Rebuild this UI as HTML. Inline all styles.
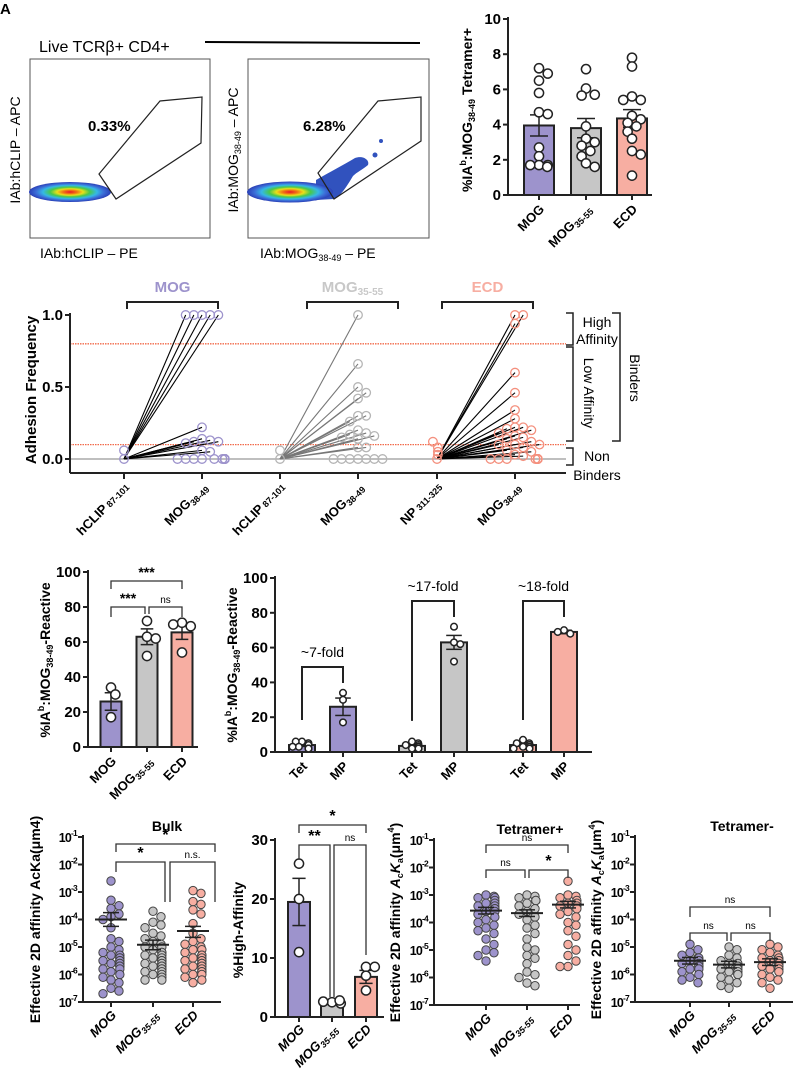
<!DOCTYPE html>
<html><head><meta charset="utf-8">
<style>
html,body{margin:0;padding:0;background:#fff;}
svg{display:block;font-family:"Liberation Sans",Arial,sans-serif;}
.b{font-weight:bold;}
</style></head>
<body>
<svg id="fig" width="800" height="1077" viewBox="0 0 800 1077" xmlns="http://www.w3.org/2000/svg">
<defs>
<radialGradient id="flow" cx="50%" cy="50%" r="50%">
<stop offset="0" stop-color="#e8102a"/><stop offset="0.18" stop-color="#f07a12"/><stop offset="0.32" stop-color="#eadf1a"/><stop offset="0.48" stop-color="#48c84a"/><stop offset="0.66" stop-color="#35b8e6"/><stop offset="0.82" stop-color="#3c6fd8"/><stop offset="1" stop-color="#2a3fb6"/>
</radialGradient>
</defs>
<g>
<text x="0" y="14" class="b" font-size="15">A</text>
<text x="39" y="52" font-size="16">Live TCRβ+ CD4+</text>
<line x1="205" y1="42" x2="420" y2="43" stroke="#000" stroke-width="2"/>
<rect x="30" y="59" width="180" height="179" fill="none" stroke="#555" stroke-width="1"/>
<ellipse cx="70" cy="192" rx="41" ry="10" fill="url(#flow)"/>
<polygon points="99,174 160,101 202,97 201,143 116,199" fill="none" stroke="#222" stroke-width="1.2"/>
<text x="88" y="131" class="b" font-size="15">0.33%</text>
<text transform="translate(20,150) rotate(-90)" text-anchor="middle" font-size="14">IAb:hCLIP – APC</text>
<text x="40" y="258" font-size="14">IAb:hCLIP – PE</text>
<rect x="248" y="59" width="181" height="179" fill="none" stroke="#555" stroke-width="1"/>
<path d="M316,180 C330,172 345,164 355,158 C363,155 370,160 368,165 C362,170 357,172 353,176 C347,186 341,196 334,199 L316,200 Z" fill="#3152be"/>
<circle cx="375" cy="155" r="2.5" fill="#3152be"/><circle cx="381" cy="141" r="2" fill="#3152be"/>
<ellipse cx="290" cy="192" rx="43" ry="10.5" fill="url(#flow)"/>
<polygon points="318,173 378,101 421,97 421,141 334,199" fill="none" stroke="#222" stroke-width="1.2"/>
<text x="303" y="131" class="b" font-size="15">6.28%</text>
<text transform="translate(238,150) rotate(-90)" text-anchor="middle" font-size="14">IAb:MOG<tspan font-size="9" dy="3">38-49</tspan><tspan dy="-3"> – APC</tspan></text>
<text x="260" y="258" font-size="14">IAb:MOG<tspan font-size="9" dy="3">38-49</tspan><tspan dy="-3"> – PE</tspan></text>
</g>
</svg>
<script>
const NS='http://www.w3.org/2000/svg';
const svg=document.getElementById('fig');
function mk(tag,a,p){const e=document.createElementNS(NS,tag);for(const k in a)e.setAttribute(k,a[k]);(p||svg).appendChild(e);return e;}
function tx(x,y,html,a,p){const e=mk('text',Object.assign({x:x,y:y},a||{}),p);e.innerHTML=html;return e;}
const COL={mog:'#9d93cc',gray:'#c6c6c6',ecd:'#f7aea2'};

// ===== Panel B data =====
const tetCats=['MOG','MOG<tspan font-size="9" dy="3">35-55</tspan>','ECD'];
const tetMeans=[3.95,3.8,4.35];
const tetSem=[0.6,0.55,0.5];
const tetPtsMOG=[7.2,6.9,6.5,5.8,4.7,4.6,2.7,2.2,1.7,1.7,1.7,1.6];
const tetPtsMOG35=[7.15,6.05,5.7,5.65,3.9,3.2,3.0,2.8,2.5,2.2,1.8,1.6];
const tetPtsECD=[7.8,7.3,5.6,5.4,5.4,4.5,4.3,4.1,3.9,3.6,3.2,2.5,2.3,1.1];
const tetTicks=[0,2,4,6,8,10];

// ===== Panel C data =====
const adhCats=['hCLIP<tspan font-size="9"> 87-101</tspan>','MOG<tspan font-size="9" dy="3">38-49</tspan>','hCLIP<tspan font-size="9"> 87-101</tspan>','MOG<tspan font-size="9" dy="3">38-49</tspan>','NP<tspan font-size="9"> 311-325</tspan>','MOG<tspan font-size="9" dy="3">38-49</tspan>'];
const adhCtlMOG=[0,0.06];
const adhMOG=[1,1,1,1,1,0.22,0.14,0.13,0.12,0.12,0.11,0.06,0.05,0,0,0,0,0,0,0,0,0,0,0,0,0,0,0,0,0,0,0];
const adhCtlMOG35=[0,0.06];
const adhMOG35=[1,0.66,0.5,0.46,0.42,0.3,0.3,0.26,0.2,0.18,0.17,0.16,0.15,0.14,0.08,0.08,0,0,0,0,0,0,0];
const adhCtlECD=[0,0.03,0.05,0.08,0.12];
const adhECD=[1,1,0.94,0.6,0.46,0.34,0.28,0.22,0.22,0.21,0.2,0.18,0.16,0.15,0.14,0.12,0.1,0.1,0.1,0.08,0.06,0.05,0.03,0.02,0,0,0,0,0,0,0,0,0,0,0,0,0,0];
const adhTicks=[0,0.5,1.0];
const adhThresh=[0.8,0.1];

// ===== Panel D data =====
const reactCats=['MOG','MOG<tspan font-size="9" dy="3">35-55</tspan>','ECD'];
const reactMeans=[26,63,65.5];
const reactSem=[5,4.5,4];
const reactPts=[[34,30,17],[72,63,62,52],[71,69,70,54]];
const reactTicks=[0,20,40,60,80,100];

// ===== Panel E data =====
const foldCats=['Tet','MP','Tet','MP','Tet','MP'];
const foldMeans=[4,26,3.5,63,4,69];
const foldSem=[0.8,5,0.8,4,0.7,1];
const foldPts=[[6,5,6,5,4,3,3,2,2,2],[34,30,17],[6,5,4,4,3,3,2,2,2],[72,63,62,52],[7,5,5,4,4,3,3,2,2,2],[70,68,69]];
const foldLabels=['~7-fold','~17-fold','~18-fold'];
const foldTicks=[0,20,40,60,80,100];

// ===== Bottom log charts data (log10 values) =====
const logTicks=[-1,-2,-3,-4,-5,-6,-7];
const bulkMOG=[-2.6,-3.3,-3.5,-3.6,-3.8,-3.9,-4.0,-4.3,-4.7,-4.8,-5.0,-5.1,-5.2,-5.3,-5.3,-5.4,-5.4,-5.5,-5.5,-5.5,-5.6,-5.6,-5.6,-5.7,-5.7,-5.8,-5.8,-5.9,-6.0,-6.1,-6.2,-6.3,-6.5,-6.6,-6.7];
const bulkMOG35=[-3.7,-3.9,-4.1,-4.2,-4.3,-4.5,-4.6,-4.7,-4.8,-4.9,-5.0,-5.0,-5.1,-5.2,-5.2,-5.3,-5.3,-5.4,-5.4,-5.5,-5.5,-5.5,-5.6,-5.6,-5.6,-5.7,-5.7,-5.7,-5.8,-5.8,-5.9,-5.9,-6.0,-6.0,-6.1,-6.2,-6.2];
const bulkECD=[-2.95,-3.05,-3.35,-3.45,-3.65,-3.8,-4.15,-4.5,-4.7,-4.8,-4.9,-5.0,-5.1,-5.1,-5.2,-5.3,-5.3,-5.4,-5.4,-5.5,-5.5,-5.5,-5.6,-5.6,-5.6,-5.7,-5.7,-5.7,-5.8,-5.8,-5.9,-5.9,-6.0,-6.0,-6.1,-6.2,-6.3];
const bulkMeans=[-4.0,-4.92,-4.42];
const bulkSem=[[-3.75,-4.25],[-4.75,-5.1],[-4.25,-4.65]];
const haCats=['MOG','MOG<tspan font-size="9" dy="3">35-55</tspan>','ECD'];
const haMeans=[19.5,2.5,6.8];
const haSem=[4,0.2,1.1];
const haPts=[[26,20,11],[2.5,2.3,2.6,2.8],[8.5,8.5,7,4.5]];
const haTicks=[0,10,20,30];
const tposMOG=[-3.0,-3.05,-3.1,-3.1,-3.2,-3.3,-3.3,-3.4,-3.4,-3.5,-3.5,-3.6,-3.6,-3.7,-3.8,-3.9,-4.0,-4.1,-4.2,-4.3,-4.4,-4.6,-4.8,-5.0,-5.1,-5.2,-5.4];
const tposMOG35=[-3.0,-3.05,-3.1,-3.2,-3.2,-3.3,-3.4,-3.5,-3.6,-3.7,-3.8,-3.9,-4.1,-4.2,-4.4,-4.6,-4.9,-5.0,-5.2,-5.3,-5.5,-5.8,-5.9,-6.0,-6.2,-6.3];
const tposECD=[-2.5,-3.0,-3.05,-3.1,-3.2,-3.3,-3.3,-3.4,-3.4,-3.5,-3.6,-3.7,-3.8,-4.0,-4.1,-4.3,-4.5,-4.8,-5.0,-5.2,-5.4,-5.6,-5.6];
const tposMeans=[-3.57,-3.66,-3.35];
const tnegMOG=[-4.9,-5.1,-5.2,-5.3,-5.4,-5.4,-5.5,-5.5,-5.5,-5.6,-5.6,-5.7,-5.7,-5.8,-5.8,-5.9,-6.0,-6.1,-6.2,-6.3];
const tnegMOG35=[-5.0,-5.1,-5.3,-5.4,-5.5,-5.6,-5.6,-5.7,-5.7,-5.8,-5.8,-5.9,-5.9,-6.0,-6.0,-6.1,-6.2,-6.3,-6.4,-6.5];
const tnegECD=[-4.9,-5.0,-5.1,-5.2,-5.3,-5.4,-5.4,-5.5,-5.5,-5.5,-5.6,-5.6,-5.7,-5.7,-5.8,-5.8,-5.9,-6.0,-6.1,-6.2,-6.3,-6.5];
const tnegMeans=[-5.5,-5.64,-5.55];

function swarm(vals,sy,r,maxW){
  const placed=[],offs=[];
  vals.forEach(function(v){
    const y=sy(v);let off=0;
    for(let k=0;k<80;k++){
      off=k===0?0:(k%2?1:-1)*Math.ceil(k/2)*r*0.95;
      if(Math.abs(off)>maxW){off=(k%2?1:-1)*maxW*((k*0.37)%1);break;}
      if(placed.every(function(p){return Math.hypot(p[0]-off,p[1]-y)>=r*1.75;}))break;
    }
    placed.push([off,y]);offs.push(off);
  });
  return offs;
}
function line(x1,y1,x2,y2,st,w,p){return mk('line',{x1:x1,y1:y1,x2:x2,y2:y2,stroke:st||'#222','stroke-width':w||1.5},p);}
function bracket(x1,x2,y,d1,d2,label,p,fs){
  const g=mk('g',{},p);
  
  
  mk('polyline',{points:x1+','+(y+d1)+' '+x1+','+y+' '+x2+','+y+' '+x2+','+(y+d2),fill:'none',stroke:'#333','stroke-width':1.3},g);
  const t=tx((x1+x2)/2,y-4,label,{'text-anchor':'middle','font-size':fs||(label.indexOf('*')>=0?14:10),'font-weight':label.indexOf('*')>=0?'bold':'normal'},g);
  
  
  return g;
}
function xlabel(x,y,html,p,fs){
  const t=tx(0,0,html,{transform:'translate('+x+','+y+') rotate(-45)','text-anchor':'end','font-size':fs||13,'font-weight':'bold'},p);
  
  
  return t;
}
function ytitle(x,y,html,p,fs){
  const t=tx(0,0,html,{transform:'translate('+x+','+y+') rotate(-90)','text-anchor':'middle','font-size':fs||14,'font-weight':'bold'},p);
  
  
  return t;
}
function linearAxis(p,ax,y0,y1,x1,ticks,sy,fs){
  line(ax,y1-2,ax,y0,'#222',2,p);
  line(ax,y0,x1,y0,'#222',2,p);
  ticks.forEach(function(v){
    line(ax-5,sy(v),ax,sy(v),'#222',2,p);
    const t=tx(ax-7,sy(v)+5,String(v),{'text-anchor':'end','font-size':fs||15,'font-weight':'bold'},p);
    
    
  });
}
function barWithErr(p,cx,w,mean,sem,sy,fill){
  const y0=sy(0);
  line(cx,sy(mean+sem),cx,sy(mean),'#222',1.5,p);
  line(cx-w*0.3,sy(mean+sem),cx+w*0.3,sy(mean+sem),'#222',1.5,p);
  const r=mk('rect',{x:cx-w/2,y:sy(mean),width:w,height:y0-sy(mean),fill:fill,stroke:'#222','stroke-width':2},p);
  
  
  line(cx,sy(mean),cx,sy(mean-sem),'#222',1.5,p);
  line(cx-w*0.3,sy(mean-sem),cx+w*0.3,sy(mean-sem),'#222',1.5,p);
  return r;
}
function hollowPts(p,cx,vals,sy,r,maxW,stroke,fill){
  const offs=swarm(vals,sy,r,maxW);
  vals.forEach(function(v,i){
    const c=mk('circle',{cx:cx+offs[i],cy:sy(v),r:r,fill:fill||'#fff',stroke:stroke||'#222','stroke-width':1.5},p);
    
    
  });
  return offs;
}

// ===== Panel B =====
(function(){
  const g=mk('g',{});
  
  
  const sy=function(v){return 195-v*17.6;};
  const xs=[539,586,632];const fills=[COL.mog,COL.gray,COL.ecd];
  const pts=[tetPtsMOG,tetPtsMOG35,tetPtsECD];
  linearAxis(g,508,195,sy(10),652,tetTicks,sy,15);
  tetCats.forEach(function(c,i){
    barWithErr(g,xs[i],30,tetMeans[i],tetSem[i],sy,fills[i]);
    hollowPts(g,xs[i],pts[i],sy,4.6,14);
    line(xs[i],195,xs[i],200,'#222',2,g);
    xlabel(xs[i]+6,210,c,g,13);
  });
  ytitle(472,110,'%IA<tspan font-size="9" dy="-6">b</tspan><tspan dy="6">:MOG</tspan><tspan font-size="9" dy="3">38-49</tspan><tspan dy="-3"> Tetramer+</tspan>',g,14);
})();

// ===== Panel C =====
(function(){
  const g=mk('g',{});
  
  
  const sy=function(v){return 459-v*144;};
  const xs=[124,202,280,358,437,515];
  const axX=70,xEnd=566;
  adhThresh.forEach(function(v){
    const l=line(axX,sy(v),xEnd,sy(v),'#f26a4a',1.3,g);
    l.setAttribute('stroke-dasharray','1.5,1');
    
    
  });
  line(axX,sy(0),xEnd,sy(0),'#999',1.3,g);
  line(axX,sy(1)-2,axX,473,'#222',2,g);
  line(axX,473,xEnd,473,'#222',2,g);
  adhTicks.forEach(function(v){
    line(axX-5,sy(v),axX,sy(v),'#222',2,g);
    const t=tx(axX-7,sy(v)+5,v.toFixed(1),{'text-anchor':'end','font-size':15,'font-weight':'bold'},g);
    
    
  });
  xs.forEach(function(x,i){
    line(x,473,x,479,'#222',2,g);
    xlabel(x+6,488,adhCats[i],g,13);
  });
  ytitle(36,390,'Adhesion Frequency',g,15);
  const groups=[[adhCtlMOG,adhMOG,'#9d93cc','#000',COL.mog],[adhCtlMOG35,adhMOG35,'#b5b5b5','#777','#c8c8c8'],[adhCtlECD,adhECD,'#f4907e','#000',COL.ecd]];
  const names=['MOG','MOG<tspan font-size="10" dy="3">35-55</tspan>','ECD'];
  const brk=[[127,218],[307,398],[442,533]];
  groups.forEach(function(gr,k){
    const xc=xs[2*k],xm=xs[2*k+1];
    const ctlOff=swarm(gr[0],sy,4.3,8);
    const offs=swarm(gr[1],sy,4.3,28);
    gr[1].forEach(function(v,i){
      if(v>0){
        const l=line(xc,sy(0),xm+offs[i],sy(v),gr[3],1.1,g);
        
        
      }
    });
    gr[0].forEach(function(v,i){
      const c=mk('circle',{cx:xc+ctlOff[i],cy:sy(v),r:4.3,fill:'none',stroke:gr[2],'stroke-width':1.3},g);
      
      
    });
    gr[1].forEach(function(v,i){
      const c=mk('circle',{cx:xm+offs[i],cy:sy(v),r:4.3,fill:'none',stroke:gr[2],'stroke-width':1.3},g);
      
      
    });
    mk('polyline',{points:brk[k][0]+',309 '+brk[k][0]+',302 '+brk[k][1]+',302 '+brk[k][1]+',309',fill:'none',stroke:'#222','stroke-width':2},g);
    const t=tx((brk[k][0]+brk[k][1])/2,292,names[k],{'text-anchor':'middle','font-size':15,'font-weight':'bold',fill:gr[4]},g);
    
    
  });
  mk('polyline',{points:'566,313 573,313 573,345 566,345',fill:'none',stroke:'#222','stroke-width':1.5},g);
  mk('polyline',{points:'566,347 573,347 573,441 566,441',fill:'none',stroke:'#222','stroke-width':1.5},g);
  mk('polyline',{points:'566,448 573,448 573,465 566,465',fill:'none',stroke:'#222','stroke-width':1.5},g);
  mk('polyline',{points:'612,313 620,313 620,441 612,441',fill:'none',stroke:'#222','stroke-width':1.5},g);
  const a1=tx(597,327,'High',{'text-anchor':'middle','font-size':14},g);
  
  
  const a2=tx(597,344,'Affinity',{'text-anchor':'middle','font-size':14},g);
  
  
  const a3=tx(0,0,'Low Affinity',{transform:'translate(584,393) rotate(90)','text-anchor':'middle','font-size':14},g);
  
  
  const a4=tx(597,461,'Non',{'text-anchor':'middle','font-size':14},g);
  
  
  const a5=tx(597,480,'Binders',{'text-anchor':'middle','font-size':14},g);
  
  
  const a6=tx(0,0,'Binders',{transform:'translate(630,378) rotate(90)','text-anchor':'middle','font-size':14},g);
  
  
})();

// ===== Panel D =====
(function(){
  const g=mk('g',{});
  
  
  const sy=function(v){return 747-v*1.75;};
  const xs=[111,147,182];const fills=[COL.mog,COL.gray,COL.ecd];
  linearAxis(g,88,747,sy(100),198,reactTicks,sy,15);
  reactCats.forEach(function(c,i){
    barWithErr(g,xs[i],21,reactMeans[i],reactSem[i],sy,fills[i]);
    hollowPts(g,xs[i],reactPts[i],sy,4.6,10);
    line(xs[i],747,xs[i],752,'#222',2,g);
    xlabel(xs[i]+6,762,c,g,13);
  });
  bracket(111,182,581,8,8,'***',g);
  bracket(111,145,607,10,7,'***',g);
  bracket(149,182,607,7,10,'ns',g);
  ytitle(50,660,'%IA<tspan font-size="9" dy="-6">b</tspan><tspan dy="6">:MOG</tspan><tspan font-size="9" dy="3">38-49</tspan><tspan dy="-3">-Reactive</tspan>',g,14);
})();

// ===== Panel E =====
(function(){
  const g=mk('g',{});
  
  
  const sy=function(v){return 752-v*1.74;};
  const xs=[302,343,412,454,523,564];
  const fills=[COL.mog,COL.mog,COL.gray,COL.gray,COL.ecd,COL.ecd];
  linearAxis(g,275,752,sy(100),592,foldTicks,sy,15);
  foldCats.forEach(function(c,i){
    barWithErr(g,xs[i],26,foldMeans[i],foldSem[i],sy,fills[i]);
    hollowPts(g,xs[i],foldPts[i],sy,3.3,11);
    line(xs[i],752,xs[i],757,'#222',2,g);
    xlabel(xs[i]+6,767,c,g,13);
  });
  const tops=[667,601,601];
  foldLabels.forEach(function(l,k){
    const x1=xs[2*k],x2=xs[2*k+1];
    mk('polyline',{points:x1+','+(sy(foldMeans[2*k])-25)+' '+x1+','+tops[k]+' '+x2+','+tops[k]+' '+x2+','+(tops[k]+16),fill:'none',stroke:'#222','stroke-width':2},g);
    const t=tx((x1+x2)/2,tops[k]-10,l,{'text-anchor':'middle','font-size':14},g);
    
    
  });
  ytitle(237,665,'%IA<tspan font-size="9" dy="-6">b</tspan><tspan dy="6">:MOG</tspan><tspan font-size="9" dy="3">38-49</tspan><tspan dy="-3">-Reactive</tspan>',g,14);
})();

// ===== Log charts =====
function logChart(name,ax,xEnd,top,bot,xs,series,means,sems,title,titleX,ytitleHtml,ytX){
  const g=mk('g',{});
  
  
  const sy=function(v){return top+(-1-v)/6*(bot-top);};
  const fills=[COL.mog,COL.gray,COL.ecd];
  line(ax,top-2,ax,bot,'#222',2,g);
  line(ax,bot,xEnd,bot,'#222',2,g);
  logTicks.forEach(function(e){
    line(ax-5,sy(e),ax,sy(e),'#222',2,g);
    const t=tx(ax-6,sy(e)+5,'10<tspan font-size="8.5" dy="-6">'+e+'</tspan>',{'text-anchor':'end','font-size':12.5,'font-weight':'bold','letter-spacing':'-0.8'},g);
    
    
  });
  const cats=['MOG','MOG<tspan font-size="9" dy="3">35-55</tspan>','ECD'];
  series.forEach(function(vals,i){
    const offs=swarm(vals,sy,4.2,15);
    vals.forEach(function(v,j){
      const c=mk('circle',{cx:xs[i]+offs[j],cy:sy(v),r:4.2,fill:fills[i],stroke:'#444','stroke-width':1},g);
      
      
    });
    const m=line(xs[i]-16,sy(means[i]),xs[i]+16,sy(means[i]),'#222',2,g);
    
    
    const s=sems[i];
    line(xs[i],sy(s[0]),xs[i],sy(s[1]),'#222',1.5,g);
    line(xs[i]-8,sy(s[0]),xs[i]+8,sy(s[0]),'#222',1.5,g);
    line(xs[i]-8,sy(s[1]),xs[i]+8,sy(s[1]),'#222',1.5,g);
    line(xs[i],bot,xs[i],bot+5,'#222',2,g);
    xlabel(xs[i]+6,bot+14,'<tspan font-style="italic">'+cats[i]+'</tspan>',g,13);
  });
  if(title){
    const t=tx(titleX,top-6,title,{'text-anchor':'middle','font-size':14,'font-weight':'bold'},g);
    
    
  }
  ytitle(ytX,(top+bot)/2,ytitleHtml,g,14);
  return g;
}
function semOf(m){return [[m[0]+0.12,m[0]-0.12],[m[1]+0.12,m[1]-0.12],[m[2]+0.12,m[2]-0.12]];}
const fBulk=logChart('bulk-affinity-chart',83,221,837,1002,[111,153,193],[bulkMOG,bulkMOG35,bulkECD],bulkMeans,bulkSem,'Bulk',167,'Effective 2D affinity AcKa(μm4)',40);
bracket(116,215,844,8,8,'*',fBulk,16);
bracket(116,165,862,10,40,'*',fBulk,16);
bracket(170,215,862,40,40,'n.s.',fBulk,10);
const fTpos=logChart('tetramer-positive-chart',434,580,840,1005,[486,527,568],[tposMOG,tposMOG35,tposECD],tposMeans,semOf(tposMeans),'Tetramer+',530,'Effective 2D affinity <tspan font-style="italic">A</tspan><tspan font-size="9" dy="3">c</tspan><tspan dy="-3" font-style="italic">K</tspan><tspan font-size="9" dy="3">a</tspan><tspan dy="-3">(μm</tspan><tspan font-size="9" dy="-6">4</tspan><tspan dy="6">)</tspan>',400);
bracket(486,568,845,8,8,'ns',fTpos,10);
bracket(486,525,870,8,8,'ns',fTpos,10);
bracket(529,568,870,8,8,'*',fTpos,16);
const fTneg=logChart('tetramer-negative-chart',635,793,837,1002,[690,729,770],[tnegMOG,tnegMOG35,tnegECD],tnegMeans,semOf(tnegMeans),'Tetramer-',742,'Effective 2D affinity <tspan font-style="italic">A</tspan><tspan font-size="9" dy="3">c</tspan><tspan dy="-3" font-style="italic">K</tspan><tspan font-size="9" dy="3">a</tspan><tspan dy="-3">(μm</tspan><tspan font-size="9" dy="-6">4</tspan><tspan dy="6">)</tspan>',601);
bracket(690,770,907,10,10,'ns',fTneg,10);
bracket(690,727,933,8,8,'ns',fTneg,10);
bracket(731,770,933,8,8,'ns',fTneg,10);

// ===== Panel G =====
(function(){
  const g=mk('g',{});
  
  
  const sy=function(v){return 1017-v*5.9;};
  const xs=[299,332,366];const fills=[COL.mog,COL.gray,COL.ecd];
  linearAxis(g,275,1017,sy(30),384,haTicks,sy,15);
  haCats.forEach(function(c,i){
    barWithErr(g,xs[i],22,haMeans[i],haSem[i],sy,fills[i]);
    hollowPts(g,xs[i],haPts[i],sy,4.6,9);
    line(xs[i],1017,xs[i],1022,'#222',2,g);
    xlabel(xs[i]+6,1030,'<tspan font-style="italic">'+c+'</tspan>',g,13);
  });
  bracket(299,366,825,8,8,'*',g,16);
  bracket(299,330,845,14,152,'**',g,16);
  bracket(334,366,845,152,110,'ns',g,10);
  ytitle(243,930,'%High-Affinity',g,14);
})();
</script>
</body></html>
